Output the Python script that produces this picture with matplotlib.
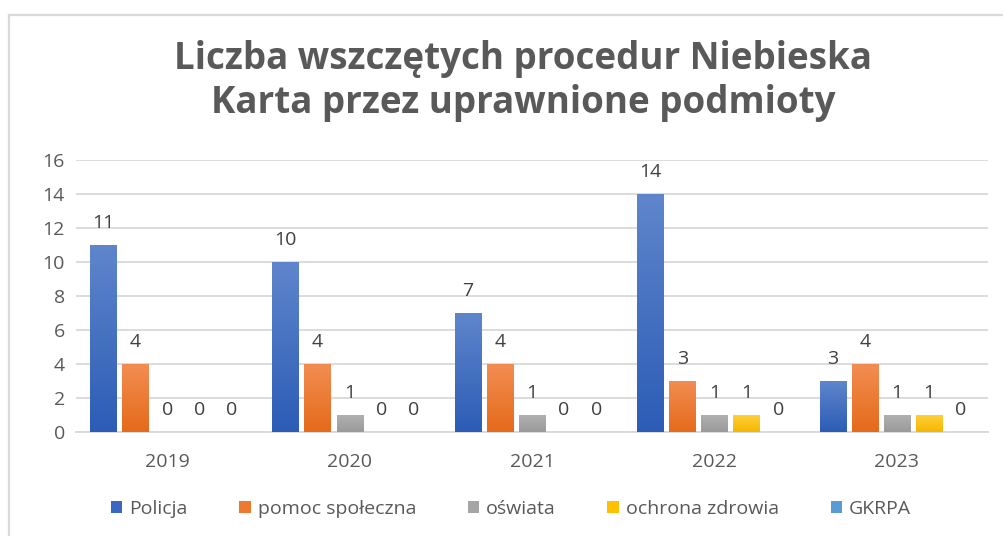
import matplotlib
matplotlib.use("Agg")
import matplotlib.pyplot as plt
import numpy as np
from matplotlib.colors import LinearSegmentedColormap
from matplotlib.patches import Patch
from matplotlib.lines import Line2D

years = ["2019", "2020", "2021", "2022", "2023"]
series_names = ["Policja", "pomoc społeczna", "oświata", "ochrona zdrowia", "GKRPA"]
policja = [11, 10, 7, 14, 3]
pomoc = [4, 4, 4, 3, 4]
oswiata = [0, 1, 1, 1, 1]
ochrona = [0, 0, 0, 1, 1]
gkrpa = [0, 0, 0, 0, 0]
title = "Liczba wszczętych procedur Niebieska\nKarta przez uprawnione podmioty"

series = [policja, pomoc, oswiata, ochrona, gkrpa]
top_cols = ["#5f86cc", "#f28d52", "#b0b0b0", "#ffcf3a", "#6fa6dc"]
bot_cols = ["#2c5cb6", "#e56a1a", "#9a9a9a", "#f5b800", "#4a8bd0"]
legend_cols = ["#3a67c0", "#ee7a30", "#a5a5a5", "#ffc000", "#5b9bd5"]

plt.rcParams['font.family'] = ['Open Sans', 'DejaVu Sans']

fig = plt.figure(figsize=(10.04, 5.36), dpi=100)
ax = fig.add_axes([76/1004, 1-432/536, 912/1004, 272/536])

# border frame
fig.add_artist(Line2D([9/1004, 9/1004], [0, 1-15/536], transform=fig.transFigure, color="#d9d9d9", lw=1.6))
fig.add_artist(Line2D([9/1004, 1.0], [1-15/536, 1-15/536], transform=fig.transFigure, color="#d9d9d9", lw=1.6))

x = np.arange(len(years))
step = 0.176
width = 0.143
grad = np.linspace(1, 0, 256).reshape(-1, 1)
for i, (vals, name) in enumerate(zip(series, series_names)):
    offs = x + (i - 2) * step
    bars = ax.bar(offs, vals, width, color=legend_cols[i], zorder=3, label=name)
    cmap = LinearSegmentedColormap.from_list("g%d" % i, [bot_cols[i], top_cols[i]])
    for b, v in zip(bars, vals):
        if v > 0:
            im = ax.imshow(grad, cmap=cmap, aspect="auto",
                           extent=[b.get_x(), b.get_x() + b.get_width(), 0, v],
                           zorder=4, vmin=0, vmax=1)
            im.set_clip_path(b)
        ax.text(b.get_x() + b.get_width() / 2, v + 0.75, str(v), ha="center", va="bottom",
                fontsize=14, color="#404040", zorder=5)

ax.set_xlim(-0.5, 4.5)
ax.set_ylim(0, 16)
ax.set_yticks(range(0, 17, 2))
ax.set_xticks(x)
ax.set_xticklabels(years)
ax.grid(axis="y", color="#d9d9d9", lw=1.3, zorder=0)
for s in ["top", "right", "left"]:
    ax.spines[s].set_visible(False)
ax.spines["bottom"].set_color("#d9d9d9")
ax.spines["bottom"].set_linewidth(1.3)
ax.tick_params(axis="both", length=0, labelsize=14, labelcolor="#595959")
ax.tick_params(axis="x", pad=15)
ax.tick_params(axis="y", pad=8)

fig.text(523/1004, 1-81/536, title, ha="center", va="center", fontsize=26.5,
         fontweight="bold", color="#595959", linespacing=1.22)

handles = [Patch(facecolor=c, edgecolor="none") for c in legend_cols]
fig.legend(handles, series_names, loc="center", bbox_to_anchor=(511/1004, 1-509/536),
           ncol=5, frameon=False, fontsize=14, labelcolor="#595959",
           handlelength=0.6, handleheight=0.6, handletextpad=0.35, columnspacing=2.65)

fig.savefig("out.png", dpi=100, facecolor="white")
